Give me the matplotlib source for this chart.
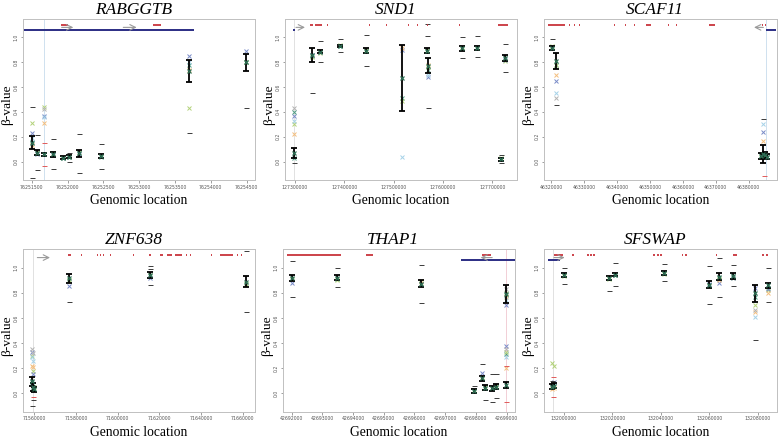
import matplotlib
matplotlib.use("Agg")
import matplotlib.pyplot as plt
import numpy as np

# RABGGTB
rab_pos = [76251500, 76251579, 76251677, 76251793, 76251932, 76252021, 76252165, 76252463, 76253695, 76254490]
rab_lo = [0.10, 0.055, 0.045, 0.04, 0.02, 0.025, 0.04, 0.03, 0.64, 0.73]
rab_hi = [0.205, 0.09, 0.072, 0.08, 0.045, 0.05, 0.09, 0.06, 0.815, 0.865]
rab_marks = [[0.16, 0.31, 0.23, 0.13, 0.19], [0.07, 0.08, 0.06], [0.06, 0.44, 0.37, 0.31, 0.36, 0.42],
             [0.06, 0.07, 0.05], [0.03, 0.035], [0.04, 0.045], [0.07, 0.08, 0.06], [0.04, 0.045],
             [0.78, 0.43, 0.85, 0.74, 0.80], [0.80, 0.80, 0.89]]
rab_dash = [[0.44, -0.13], [0.21, -0.07], [], [0.18, -0.06], [], [0.07, 0.0], [0.225, -0.09],
            [0.145, -0.06], [0.23], [0.43]]
rab_red_x = [76251677, 76251677]
rab_red_y = [0.15, -0.035]
rab_islands = [(76251909, 76252012), (76253188, 76253304)]
rab_genes = [(76251384, 76253765)]
rab_arrows = [(76251918, 76252081), (76252779, 76252965)]
rab_ticks = list(range(76251500, 76254501, 500))

# SND1
snd_pos = [127298650, 127333800, 127350700, 127391200, 127443900, 127516200, 127567000, 127569500,
           127637800, 127669600, 127718900, 127725700]
snd_lo = [0.027, 0.80, 0.87, 0.92, 0.87, 0.41, 0.87, 0.71, 0.89, 0.90, 0.005, 0.81]
snd_hi = [0.107, 0.91, 0.90, 0.94, 0.91, 0.94, 0.91, 0.83, 0.93, 0.93, 0.03, 0.86]
snd_marks = [[0.03, 0.30, 0.37, 0.225, 0.33, 0.43, 0.40], [0.85, 0.84, 0.86], [0.89, 0.87, 0.88],
             [0.93, 0.935], [0.89, 0.90], [0.51, 0.49, 0.90, 0.91, 0.04], [0.89, 0.90],
             [0.74, 0.76, 0.68, 0.78, 0.70], [0.91, 0.92], [0.92, 0.91], [0.02, 0.025], [0.83, 0.81, 0.82]]
snd_dash = [[-0.015], [0.55], [0.97, 0.80], [0.99, 0.88], [1.02, 0.77], [], [1.11, 1.01], [0.43],
            [1.0, 0.83], [1.01, 0.84], [0.05, -0.01], [0.95, 0.72]]
snd_red_x = []
snd_red_y = []
snd_islands = [(127330400, 127337200), (127340500, 127354000), (127364200, 127367600),
               (127451000, 127453000), (127484800, 127486800), (127528700, 127530700),
               (127547000, 127549000), (127567300, 127569300), (127632100, 127634100),
               (127712200, 127732400)]
snd_genes = [(127296500, 127300500)]
snd_arrows = [(127302000, 127320300)]
snd_ticks = list(range(127300000, 127700001, 100000))

# SCAF11
scaf_pos = [46320300, 46321500, 46383600, 46384300, 46384900, 46385600]
scaf_lo = [0.90, 0.745, 0.02, -0.01, 0.03, 0.02]
scaf_hi = [0.93, 0.87, 0.07, 0.13, 0.08, 0.06]
scaf_marks = [[0.92, 0.93, 0.91], [0.78, 0.78, 0.65, 0.695, 0.555, 0.51], [0.05, 0.04],
              [0.06, 0.05, 0.24, 0.166, 0.30], [0.05, 0.06], [0.04]]
scaf_dash = [[0.99], [0.455], [], [0.34], [], []]
scaf_red_x = [46384640]
scaf_red_y = [-0.12]
scaf_islands = [(46318990, 46324040), (46325400, 46325700), (46326900, 46327200), (46328400, 46328700),
                (46339000, 46339300), (46342250, 46342550), (46345100, 46345400), (46348785, 46350300),
                (46355400, 46355700), (46358000, 46358300), (46367975, 46369690), (46383950, 46384250),
                (46384950, 46385250)]
scaf_genes = [(46385145, 46388175)]
scaf_arrows = [(46384440, 46381610)]
scaf_ticks = list(range(46320000, 46380001, 10000))

# ZNF638
znf_pos = [71558900, 71559400, 71559900, 71576640, 71615520, 71661600]
znf_lo = [0.06, 0.02, 0.01, 0.88, 0.92, 0.845]
znf_hi = [0.13, 0.08, 0.05, 0.947, 0.965, 0.933]
znf_marks = [[0.09, 0.30, 0.33, 0.22, 0.29, 0.35], [0.04, 0.18, 0.15, 0.21, 0.26, 0.32], [0.03, 0.05],
             [0.90, 0.90, 0.85], [0.93, 0.94, 0.92], [0.87, 0.87]]
znf_dash = [[-0.10], [-0.05], [], [0.73], [1.01, 0.86, 0.99], [0.65, 1.13]]
znf_red_x = [71559400]
znf_red_y = [-0.03]
znf_islands = [(71576320, 71577440), (71582500, 71583000), (71590000, 71590500), (71591300, 71591800),
               (71592900, 71593400), (71596100, 71596600), (71607300, 71607800), (71615300, 71615800),
               (71620320, 71621920), (71623520, 71625920), (71627520, 71630720), (71632900, 71633400),
               (71634800, 71635300), (71644900, 71645400), (71649120, 71655520), (71657200, 71657700),
               (71659300, 71659800)]
znf_genes = []
znf_arrows = [(71561440, 71567520)]
znf_ticks = list(range(71560000, 71660001, 20000))

# THAP1
thap_pos = [42692000, 42693480, 42696210, 42697940, 42698210, 42698300, 42698530, 42698660, 42698970, 42698970]
thap_lo = [0.89, 0.90, 0.845, 0.005, 0.10, 0.025, 0.02, 0.03, 0.715, 0.045]
thap_hi = [0.94, 0.94, 0.90, 0.03, 0.14, 0.065, 0.06, 0.07, 0.86, 0.09]
thap_marks = [[0.91, 0.91, 0.88], [0.91, 0.90], [0.87, 0.88, 0.87, 0.89], [0.02, 0.025], [0.12, 0.13, 0.16],
              [0.045, 0.05], [0.04, 0.045], [0.05, 0.055], [0.78, 0.80, 0.70, 0.77, 0.74, 0.83],
              [0.31, 0.33, 0.38, 0.20, 0.29, 0.35]]
thap_dash = [[1.05, 0.77], [1.0, 0.845], [1.02, 0.72], [0.06], [0.23], [-0.05], [0.155, -0.07],
             [0.15, -0.035], [], []]
thap_red_x = [42698970, 42698970]
thap_red_y = [-0.07, 0.22]
thap_islands = [(42691838, 42693620), (42694430, 42694646), (42698210, 42698502)]
thap_genes = [(42697508, 42699268)]
thap_arrows = [(42698534, 42698156)]
thap_ticks = list(range(42692000, 42699001, 1000))

# SFSWAP
sfs_pos = [131995200, 131996200, 132000000, 132018900, 132021240, 132041500, 132060000, 132064100,
           132070000, 132078800, 132084250]
sfs_lo = [0.03, 0.04, 0.925, 0.90, 0.93, 0.94, 0.835, 0.90, 0.91, 0.73, 0.84]
sfs_hi = [0.07, 0.08, 0.955, 0.93, 0.96, 0.975, 0.89, 0.955, 0.955, 0.86, 0.88]
sfs_marks = [[0.05, 0.24, 0.06, 0.03], [0.06, 0.22, 0.09, 0.04], [0.94, 0.93], [0.92, 0.91], [0.94, 0.95],
             [0.96, 0.95], [0.86, 0.85, 0.87], [0.92, 0.91, 0.875, 0.90], [0.93, 0.92, 0.92],
             [0.77, 0.70, 0.84, 0.65, 0.61, 0.66], [0.84, 0.82, 0.83, 0.80]]
sfs_dash = [[0.10], [], [1.0, 0.87], [0.81], [1.04, 0.85], [1.03, 0.895], [1.01, 0.71], [1.08, 0.77],
            [1.02, 0.85], [0.42], [0.995, 0.73]]
sfs_red_x = [131995700, 131995700]
sfs_red_y = [0.13, -0.03]
sfs_islands = [(131996027, 131999726), (132003400, 132004200), (132009600, 132010400), (132011000, 132011800),
               (132012300, 132013100), (132037000, 132037800), (132038400, 132039200), (132039700, 132040500),
               (132048600, 132049400), (132050000, 132050800), (132062600, 132063400), (132069900, 132070700),
               (132070800, 132071600), (132081900, 132082700), (132083600, 132084400)]
sfs_genes = [(131993560, 131998356)]
sfs_arrows = [(131996027, 132000411)]
sfs_ticks = list(range(132000000, 132080001, 20000))

palette = ['#4f9c82', '#b3d27a', '#7a8cc8', '#f3be7e', '#a6d2e8', '#b4b4b4']
serif = 'Liberation Serif'


def draw_panel(ax, title, pos, lo, hi, marks, dash, red_x, red_y, islands, genes, arrows,
               vline, vcolor, ticks, xlim):
    ax.set_xlim(xlim)
    ax.set_ylim(-0.148, 1.148)
    ax.axvline(vline, color=vcolor, lw=0.6, zorder=0)

    for p, vals in zip(pos, marks):
        for k, v in enumerate(vals):
            ax.plot(p, v, 'x', color=palette[k % len(palette)], ms=3.2, mew=0.7, zorder=2)
    for p, vals in zip(pos, dash):
        for v in vals:
            ax.plot(p, v, '_', color='#3a3a3a', ms=3.6, mew=0.7, zorder=2)
    if red_x:
        ax.plot(red_x, red_y, '_', color='#e05a5a', ms=3.6, mew=0.7, ls='none', zorder=2)

    lo = np.array(lo)
    hi = np.array(hi)
    ax.errorbar(pos, (lo + hi) / 2, yerr=(hi - lo) / 2, fmt='none', ecolor='black',
                elinewidth=1.3, capsize=2.5, capthick=1.3, zorder=3)
    ax.plot(pos, (lo + hi) / 2, 'x', color='#2f6f55', ms=2.8, mew=0.9, ls='none', zorder=4)

    for s, e in islands:
        ax.plot([s, e], [1.1, 1.1], color='#c8343c', lw=1.3, solid_capstyle='butt')
    for s, e in genes:
        ax.plot([s, e], [1.06, 1.06], color='#2b2d84', lw=1.4, solid_capstyle='butt')
    for s, e in arrows:
        ax.annotate('', xy=(e, 1.08), xytext=(s, 1.08),
                    arrowprops=dict(arrowstyle='->', color='#9a9a9a', lw=0.8, shrinkA=0, shrinkB=0))

    ax.set_xticks(ticks)
    ax.set_xticklabels([str(t) for t in ticks])
    ax.set_yticks([0, 0.2, 0.4, 0.6, 0.8, 1.0])
    ax.set_yticklabels(['0.0', '0.2', '0.4', '0.6', '0.8', '1.0'], rotation=90, va='center')
    ax.tick_params(labelsize=3.3, length=1.8, width=0.4, colors='#555555', pad=1.5)
    for sp in ax.spines.values():
        sp.set_color('#c0c0c0')
        sp.set_linewidth(0.7)

    ax.annotate(title, xy=(0.5, 1.0), xycoords='axes fraction', xytext=(-4, 3.5),
                textcoords='offset points', ha='center', va='baseline',
                fontsize=12.5, fontstyle='italic', family=serif)
    ax.set_xlabel('Genomic location', family=serif, fontsize=9.8, labelpad=3)
    ax.set_ylabel('β-value', family=serif, fontsize=9.6)
    ax.yaxis.set_label_coords(-0.044, 0.47)


fig = plt.figure(figsize=(7.78, 4.4), dpi=100)
W = 0.298
H1 = 0.366
H2 = 0.370
lefts = [0.0296, 0.3663, 0.6992]
ax1 = fig.add_axes([lefts[0], 0.591, W, H1])
ax2 = fig.add_axes([lefts[1], 0.591, W, H1])
ax3 = fig.add_axes([lefts[2], 0.591, 0.300, H1])
ax4 = fig.add_axes([lefts[0], 0.064, W, H2])
ax5 = fig.add_axes([0.3637, 0.064, W, H2])
ax6 = fig.add_axes([lefts[2], 0.064, 0.300, H2])

draw_panel(ax1, 'RABGGTB', rab_pos, rab_lo, rab_hi, rab_marks, rab_dash, rab_red_x, rab_red_y,
           rab_islands, rab_genes, rab_arrows, 76251677, '#c8dcec', rab_ticks, (76251379, 76254616))
draw_panel(ax2, 'SND1', snd_pos, snd_lo, snd_hi, snd_marks, snd_dash, snd_red_x, snd_red_y,
           snd_islands, snd_genes, snd_arrows, 127298650, '#dcdcdc', snd_ticks, (127279700, 127750000))
draw_panel(ax3, 'SCAF11', scaf_pos, scaf_lo, scaf_hi, scaf_marks, scaf_dash, scaf_red_x, scaf_red_y,
           scaf_islands, scaf_genes, scaf_arrows, 46385145, '#c8dcec', scaf_ticks, (46317778, 46388700))
draw_panel(ax4, 'ZNF638', znf_pos, znf_lo, znf_hi, znf_marks, znf_dash, znf_red_x, znf_red_y,
           znf_islands, znf_genes, znf_arrows, 71559200, '#dcdcdc', znf_ticks, (71554560, 71665920))
draw_panel(ax5, 'THAP1', thap_pos, thap_lo, thap_hi, thap_marks, thap_dash, thap_red_x, thap_red_y,
           thap_islands, thap_genes, thap_arrows, 42698970, '#f0c8d0', thap_ticks, (42691720, 42699270))
draw_panel(ax6, 'SFSWAP', sfs_pos, sfs_lo, sfs_hi, sfs_marks, sfs_dash, sfs_red_x, sfs_red_y,
           sfs_islands, sfs_genes, sfs_arrows, 131995700, '#dcdcdc', sfs_ticks, (131991900, 132088090))

fig.savefig('out.png', dpi=100)
